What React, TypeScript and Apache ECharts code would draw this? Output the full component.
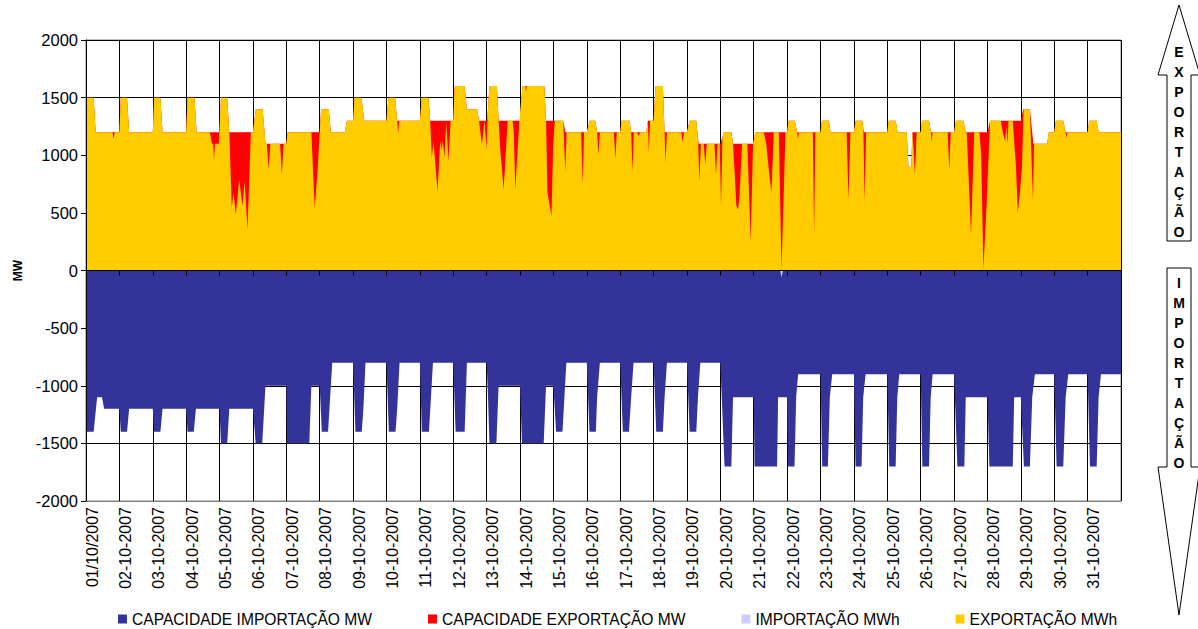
import React, { useEffect, useRef } from "react";
import * as echarts from "echarts";

const FONT = '"Liberation Sans", Arial, sans-serif';

// Day tick labels (one per day boundary, hour = 24 * index)
const dayTicks = [
  "01/10/2007", "02-10-2007", "03-10-2007", "04-10-2007", "05-10-2007", "06-10-2007",
  "07-10-2007", "08-10-2007", "09-10-2007", "10-10-2007", "11-10-2007", "12-10-2007",
  "13-10-2007", "14-10-2007", "15-10-2007", "16-10-2007", "17-10-2007", "18-10-2007",
  "19-10-2007", "20-10-2007", "21-10-2007", "22-10-2007", "23-10-2007", "24-10-2007",
  "25-10-2007", "26-10-2007", "27-10-2007", "28-10-2007", "29-10-2007", "30-10-2007",
  "31-10-2007",
];

const seriesNames = [
  "CAPACIDADE IMPORTAÇÃO MW",
  "CAPACIDADE EXPORTAÇÃO MW",
  "IMPORTAÇÃO MWh",
  "EXPORTAÇÃO MWh",
];

const arrowWords = ["EXPORTAÇÃO", "IMPORTAÇÃO"];

// [hour of month, MW] breakpoints
const exportCapacity: [number, number][] = [
  [0, 1500], [5.5, 1500], [7, 1200],
  [24, 1200], [25, 1500], [29.5, 1500], [31, 1200],
  [48, 1200], [49, 1500], [53.5, 1500], [55, 1200],
  [72, 1200], [73, 1500], [78, 1500], [79.5, 1200],
  [96, 1200], [97, 1500], [101.5, 1500], [103, 1200],
  [120, 1200], [122, 1400], [127, 1400], [129, 1100],
  [144, 1100], [145, 1200],
  [168, 1200], [169, 1400], [174.5, 1400], [176, 1200], [186, 1200], [187.5, 1300],
  [192, 1300], [193, 1500], [198, 1500], [200, 1300],
  [216, 1300], [217.4, 1500], [222.2, 1500], [223.7, 1300],
  [240, 1300], [241.4, 1500], [246.2, 1500], [247.4, 1300],
  [264, 1300], [265, 1600], [272.2, 1600], [273.8, 1400], [281.2, 1400], [282.5, 1300],
  [288.4, 1300], [290, 1600], [295.4, 1600], [296.6, 1300],
  [312, 1300], [313.7, 1600], [329.5, 1600], [330.7, 1300],
  [343, 1300], [344.6, 1200],
  [360, 1200], [362, 1300], [366.2, 1300], [367.4, 1200],
  [384, 1200], [385, 1300], [390.7, 1300], [391.9, 1200], [402.7, 1200], [403.9, 1300],
  [408, 1300], [409.4, 1600], [414.7, 1600], [415.9, 1200],
  [432, 1200], [433.9, 1300], [438.7, 1300], [440.4, 1100],
  [456, 1100], [458.6, 1200], [463.9, 1200], [465.1, 1100],
  [480, 1100], [481, 1200],
  [504, 1200], [505, 1300], [509.5, 1300], [511.2, 1200],
  [528, 1200], [529, 1300], [534, 1300], [535.2, 1200],
  [552, 1200], [553.2, 1300], [558, 1300], [559.2, 1200],
  [576, 1200], [577, 1300], [582, 1300], [583.5, 1200], [590, 1200], [591.2, 900], [593.1, 900], [594.1, 1200],
  [600, 1200], [601, 1300], [606, 1300], [607.4, 1200],
  [624, 1200], [625.4, 1300], [630.7, 1300], [632.4, 1200],
  [648, 1200], [649.9, 1300],
  [672, 1300], [673.7, 1400], [678.5, 1400], [681, 1100], [690.9, 1100], [692.1, 1200],
  [696, 1200], [697.2, 1300], [702.5, 1300], [704.2, 1200],
  [720, 1200], [721.2, 1300], [726.5, 1300], [728, 1200], [744, 1200],
];

// hours where the exported energy fell below the export capacity
const exportDips: [number, number][][] = [
  [[19, 1200], [19.9, 1140], [20.6, 1200]],
  [[89, 1200], [90.5, 1100], [91.5, 1100], [92, 960], [92.8, 1100], [95.5, 1100], [97, 1500]],
  [[103, 1200], [104.8, 545], [106, 675], [107.7, 485], [110.1, 790], [112.5, 560], [114, 775], [116.1, 355], [118.5, 1200]],
  [[130, 1100], [131.3, 882], [132.5, 1100]],
  [[139.5, 1100], [140.8, 833], [142, 1100]],
  [[162, 1200], [164.4, 543], [166.5, 876], [168, 1200]],
  [[223.7, 1300], [224.4, 1190], [225.2, 1300]],
  [[247.4, 1300], [248.6, 980], [249.8, 1120], [251, 940], [252.7, 690], [254.6, 1120], [255.8, 1050], [256.5, 1130], [257.7, 980], [258.9, 1290], [260.6, 950], [262.1, 1300]],
  [[283, 1300], [284.6, 1093], [286.5, 1300], [287.9, 1050], [289, 1410]],
  [[296.6, 1300], [297.8, 1050], [300.2, 700], [303.1, 1300]],
  [[306.7, 1300], [307.5, 1200], [308.6, 700], [311.5, 1300]],
  [[315.8, 1600], [316.3, 1550], [316.8, 1600]],
  [[330.7, 1300], [331.7, 680], [334.6, 470], [335.8, 1090], [337, 1300]],
  [[343, 1300], [344.6, 862], [345.5, 1200]],
  [[355.9, 1200], [357.1, 746], [358, 1200]],
  [[367.4, 1200], [368.4, 1007], [369.4, 1200]],
  [[379.4, 1200], [380.6, 969], [381.5, 1200]],
  [[391.9, 1200], [392.9, 862], [393.8, 1200]],
  [[396, 1200], [397.2, 1170], [398.5, 1200]],
  [[403.9, 1300], [404.6, 1021], [405.5, 1300]],
  [[415.9, 1200], [416.6, 934], [417.6, 1200]],
  [[427.9, 1200], [428.9, 1113], [429.9, 1200]],
  [[440, 1130], [440.9, 775], [442, 1100]],
  [[444, 1100], [445.2, 920], [446.2, 1100]],
  [[451.8, 1100], [452.9, 833], [454, 1100]],
  [[455.5, 1100], [456.5, 558], [457.5, 1158]],
  [[465.1, 1100], [466.5, 800], [467.5, 560], [468.7, 529], [469.8, 650], [471.6, 1100]],
  [[475.4, 1100], [477.8, 254], [479.5, 1100]],
  [[487.2, 1200], [489, 1100], [490.8, 876], [492.7, 674], [494.4, 1200]],
  [[498, 1200], [500, 10], [502.8, 1200]],
  [[511.2, 1200], [511.8, 1140], [512.5, 1200]],
  [[522.5, 1200], [523.4, 312], [524.3, 1200]],
  [[546.8, 1200], [548.1, 616], [549.5, 1200]],
  [[558.8, 1230], [559.7, 601], [560.8, 1200]],
  [[594.1, 1200], [595.9, 833], [597.1, 1200]],
  [[607.4, 1200], [607.9, 1110], [608.6, 1200]],
  [[619.4, 1200], [620.6, 876], [621.6, 1200]],
  [[633.1, 1200], [636.2, 312], [638.5, 1200]],
  [[642.2, 1200], [643.5, 1000], [645.1, 10], [647.5, 600], [648.5, 900], [649.9, 1300]],
  [[657.6, 1300], [659, 1200], [660.7, 1120], [661.5, 1250], [662.4, 1100], [663.1, 1300]],
  [[666.2, 1300], [668.5, 900], [669.8, 500], [671.5, 700], [672.8, 900], [674, 1400]],
  [[678.5, 1400], [680.7, 616], [681.5, 1100]],
  [[704.2, 1200], [704.7, 1150], [705.4, 1200]],
];

const importCapacity: [number, number][] = [
  [0, -1400], [5.5, -1400], [8, -1100], [11.5, -1100], [13, -1200],
  [24, -1200], [25, -1400], [29.5, -1400], [31, -1200],
  [48, -1200], [49, -1400], [53.5, -1400], [55, -1200],
  [72, -1200], [73, -1400], [77.5, -1400], [79, -1200],
  [96, -1200], [97, -1500], [101.5, -1500], [103, -1200],
  [120, -1200], [122, -1500], [126.7, -1500], [129, -1000],
  [144, -1000], [144.5, -1500], [160.5, -1500], [162, -1000],
  [168, -1000], [169.5, -1400], [174, -1400], [175, -1200], [177, -800],
  [192, -800], [193.7, -1400], [198.2, -1400], [199.4, -1200], [200.9, -800],
  [216, -800], [217.7, -1400], [222.5, -1400], [223.7, -1200], [225.4, -800],
  [240, -800], [241.4, -1400], [246.5, -1400], [247.5, -1200], [249.4, -800],
  [264, -800], [265.7, -1400], [272.2, -1400], [273.8, -800],
  [288, -800], [289, -1100], [290, -1500], [295, -1500], [296.6, -1000],
  [312, -1000], [313.4, -1500], [329, -1500], [330.7, -1000],
  [336, -1000], [337.9, -1400], [342.5, -1400], [343.9, -1100], [345.3, -800],
  [360, -800], [361.9, -1400], [366.5, -1400], [367.4, -1100], [369.4, -800],
  [384, -800], [385.9, -1400], [390.3, -1400], [391.9, -1100], [393.6, -800],
  [408, -800], [409.9, -1400], [414.7, -1400], [415.9, -1100], [417.6, -800],
  [432, -800], [433.9, -1400], [438.7, -1400], [439.9, -1100], [441.6, -800],
  [456, -800], [459, -1700], [463.9, -1700], [465.1, -1100],
  [480, -1100], [480.6, -1700], [496.8, -1700], [497.5, -1100],
  [504, -1100], [504.7, -1700], [509.3, -1700], [510.5, -1100], [511.9, -900],
  [528, -900], [529.2, -1700], [533.3, -1700], [534.7, -1100], [536.4, -900],
  [552, -900], [553.2, -1700], [557.5, -1700], [558.7, -1100], [560.4, -900],
  [576, -900], [577.4, -1700], [582, -1700], [583.2, -1100], [584.6, -900],
  [600, -900], [601.2, -1700], [606, -1700], [607.2, -1100], [608.6, -900],
  [624, -900], [626.4, -1700], [631.4, -1700], [632.4, -1100],
  [648, -1100], [649.4, -1700], [666.2, -1700], [667.2, -1100],
  [672, -1100], [674.2, -1700], [678.5, -1700], [680.2, -1100], [682.1, -900],
  [696, -900], [697.7, -1700], [702.5, -1700], [704.2, -1100], [706.1, -900],
  [720, -900], [721.7, -1700], [726.5, -1700], [727.9, -1100], [729.6, -900], [744, -900],
];

const importFlow: [number, number][] = [
  [0, 0], [499, 0], [500, -60], [501, 0], [744, 0],
];

function buildFlow(cap: [number, number][], dips: [number, number][][]) {
  let pts = cap.slice();
  for (const dip of dips) {
    const a = dip[0][0];
    const b = dip[dip.length - 1][0];
    pts = pts.filter((p) => p[0] < a || p[0] > b);
    pts.push(...dip);
  }
  pts.sort((p, q) => p[0] - q[0]);
  return pts;
}

const colors = ["#333399", "#FF0000", "#CCCCFF", "#FFCC00"];

export default function App() {
  const ref = useRef<HTMLDivElement>(null);
  useEffect(() => {
    if (!ref.current) return;
    const chart = echarts.init(ref.current, null, { renderer: "svg" });
    const exportFlow = buildFlow(exportCapacity, exportDips);
    const seriesData = [importCapacity, exportCapacity, importFlow, exportFlow];
    const mkSeries = (i: number) => ({
      name: seriesNames[i],
      type: "line",
      data: seriesData[i],
      xAxisIndex: 0,
      yAxisIndex: 0,
      showSymbol: false,
      symbol: "none",
      silent: true,
      lineStyle: { width: 0, color: colors[i] },
      itemStyle: { color: colors[i] },
      areaStyle: { color: colors[i], opacity: 1 },
      z: 2 + i,
    });
    const letters = (w: string) => w.split("").join("\n");
    const arrowText = {
      fill: "#000", align: "center", verticalAlign: "top",
      fontSize: 14, fontWeight: "bold", fontFamily: FONT, lineHeight: 20,
    };
    chart.setOption({
      animation: false,
      grid: {
        left: 86, right: 77, top: 40, bottom: 128,
        show: true, borderColor: "#808080", borderWidth: 1, backgroundColor: "transparent",
      },
      legend: {
        data: seriesNames.map((n) => ({ name: n, icon: "rect" })),
        left: 118, top: 611, padding: 0, itemWidth: 9, itemHeight: 9, itemGap: 56,
        textStyle: { fontSize: 15.6, color: "#000", fontFamily: FONT },
        selectedMode: false,
      },
      xAxis: [
        {
          type: "value", min: 0, max: 744, interval: 24, position: "bottom",
          axisLine: { onZero: false, show: true, lineStyle: { color: "#808080", width: 1 } },
          axisTick: { show: false },
          axisLabel: {
            rotate: 90, fontSize: 16, color: "#000", fontFamily: FONT, margin: 6,
            verticalAlign: "top", lineHeight: 12,
            showMinLabel: true, showMaxLabel: true, hideOverlap: false,
            formatter: (v: number) => dayTicks[Math.round(v / 24)] ?? "",
          },
          splitLine: { show: true, lineStyle: { color: "#000", width: 1 } },
        },
        {
          type: "value", min: 0, max: 744, interval: 24, position: "bottom", z: 20,
          axisLine: { onZero: true, show: true, lineStyle: { color: "#000", width: 1 } },
          axisTick: { show: true, length: 5, lineStyle: { color: "#000" } },
          axisLabel: { show: false },
          splitLine: { show: false },
        },
      ],
      yAxis: [
        {
          type: "value", min: -2000, max: 2000, interval: 500,
          name: "MW", nameLocation: "middle", nameGap: 62, nameRotate: 90,
          nameTextStyle: { fontSize: 12, fontWeight: "bold", color: "#000", fontFamily: FONT },
          axisLine: { show: false }, axisTick: { show: false },
          axisLabel: { fontSize: 16.5, color: "#000", fontFamily: FONT, margin: 8, formatter: (v: number) => String(v) },
          splitLine: { show: true, lineStyle: { color: "#000", width: 1 } },
        },
        {
          type: "value", min: -2000, max: 2000, interval: 500, position: "left", z: 20,
          axisLine: { show: true, onZero: false, lineStyle: { color: "#000", width: 1 } },
          axisTick: { show: true, length: 5, lineStyle: { color: "#000" } },
          axisLabel: { show: false },
          splitLine: { show: false },
        },
      ],
      series: [0, 1, 2, 3].map(mkSeries),
      graphic: [
        {
          type: "polygon",
          shape: { points: [[1179, 5], [1200, 75], [1191, 75], [1191, 241], [1167, 241], [1167, 75], [1158, 75]] },
          style: { fill: "#fff", stroke: "#000", lineWidth: 1 },
        },
        {
          type: "polygon",
          shape: { points: [[1167, 268], [1191, 268], [1191, 467], [1200, 467], [1179, 615], [1158, 467], [1167, 467]] },
          style: { fill: "#fff", stroke: "#000", lineWidth: 1 },
        },
        { type: "text", x: 1179, y: 42, style: { ...arrowText, text: letters(arrowWords[0]) } },
        { type: "text", x: 1179, y: 273, style: { ...arrowText, text: letters(arrowWords[1]) } },
      ],
    });
    return () => chart.dispose();
  }, []);
  return (
    <div
      ref={ref}
      style={{ position: "absolute", left: 0, top: 0, width: 1198, height: 629, background: "#fff" }}
    />
  );
}
